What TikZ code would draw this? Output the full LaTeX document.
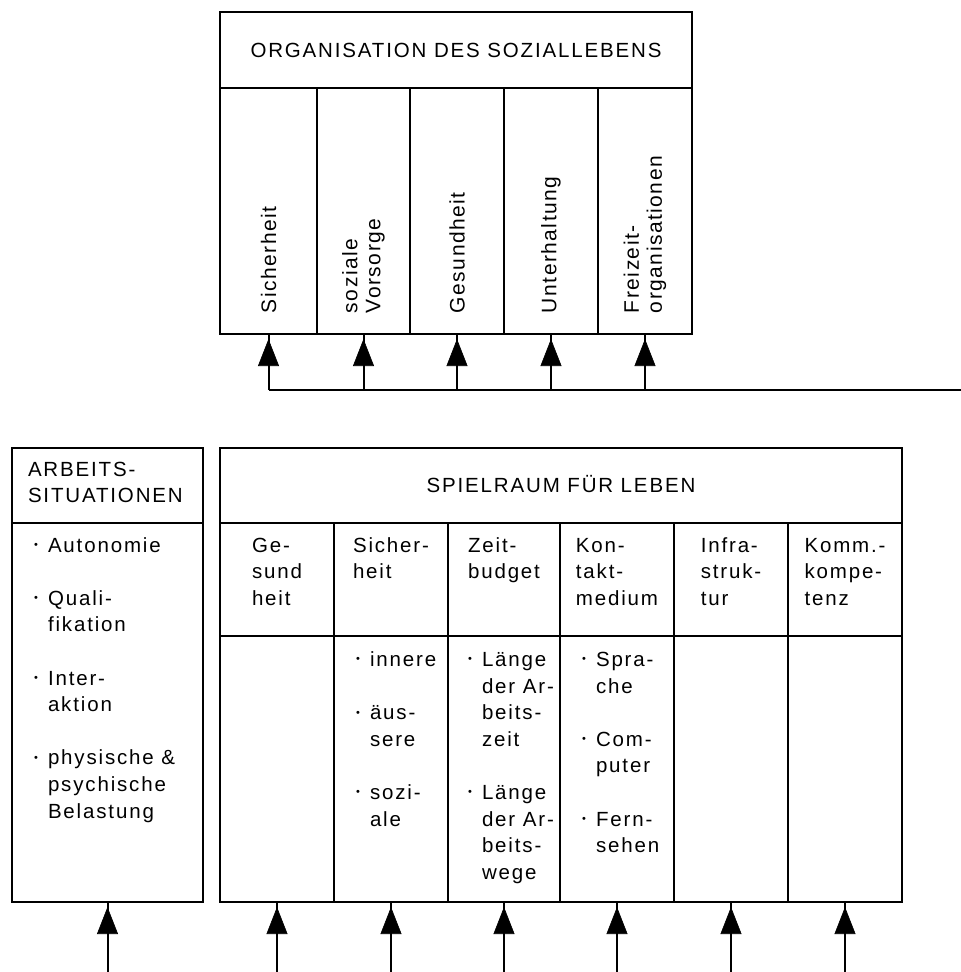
\documentclass[tikz,border=0pt]{standalone}
\usepackage{fontspec}
\setmainfont{Liberation Sans}
\newfontfamily\hfontfam{Liberation Sans}[LetterSpace=9]
\newfontfamily\vfontfam{Liberation Sans}[LetterSpace=7]
\usetikzlibrary{arrows.meta,decorations.markings}

% horizontal and vertical label fonts
\newcommand\hlbl{\hfontfam\fontsize{20.5}{26.6}\selectfont}
\newcommand\vlbl{\vfontfam\fontsize{21}{23}\selectfont}
% hanging bullet and gap between list items
\newcommand\bul{\llap{\raisebox{3.6pt}{\fontsize{11}{10}\selectfont •}\hspace{10pt}}}
\newcommand\itemgap{\\[26.6pt]}

\begin{document}
\begin{tikzpicture}[x=1pt,y=-1pt,
  cell/.style={draw, line width=2pt, inner sep=0pt, outer sep=0pt, anchor=north west},
  hl/.style={font=\hlbl, inner sep=0pt, outer sep=0pt},
  vl/.style={font=\vlbl, inner sep=0pt, outer sep=0pt, rotate=90, anchor=west, align=left},
  bus/.style={line width=2pt},
  conn/.style={line width=2pt, postaction={decorate},
    decoration={markings, mark=at position -5pt with {\arrow[line width=0.6pt]{Triangle[length=27pt,width=21pt]}}}}
]
\useasboundingbox (0,0) rectangle (961,972);

% ---------- Organisation des Soziallebens ----------
\node[cell, minimum width=472pt, minimum height=76pt] (orgHead) at (220,12) {};
\node[cell, minimum width=97pt, minimum height=246pt] (orgC1) at (220,88) {};
\node[cell, minimum width=93pt, minimum height=246pt] (orgC2) at (317,88) {};
\node[cell, minimum width=94pt, minimum height=246pt] (orgC3) at (410,88) {};
\node[cell, minimum width=94pt, minimum height=246pt] (orgC4) at (504,88) {};
\node[cell, minimum width=94pt, minimum height=246pt] (orgC5) at (598,88) {};

\node[hl, anchor=base] (orgTitle) at (456,57) {ORGANISATION DES SOZIALLEBENS};
\node[vl] (vSich) at (orgC1.center |- 0,313) {Sicherheit};
\node[vl] (vVors) at (orgC2.center |- 0,313) {soziale\\Vorsorge};
\node[vl] (vGes) at (orgC3.center |- 0,313) {Gesundheit};
\node[vl] (vUnt) at (orgC4.center |- 0,313) {Unterhaltung};
\node[vl] (vFrei) at (orgC5.center |- 0,313) {Freizeit-\\organisationen};

% ---------- Arbeitssituationen ----------
\node[cell, minimum width=191pt, minimum height=75pt] (arbHead) at (12,448) {};
\node[cell, minimum width=191pt, minimum height=379pt] (arbBody) at (12,523) {};
\node[hl, anchor=north west, align=left] (arbTitle) at (28,457.4) {\strut ARBEITS-\\SITUATIONEN};
\node[hl, anchor=north west, align=left] (arbList) at (48,533.4)
  {\strut\bul Autonomie\itemgap
   \bul Quali-\\fikation\itemgap
   \bul Inter-\\aktion\itemgap
   \bul physische \&\\psychische\\Belastung};

% ---------- Spielraum fuer Leben ----------
\node[cell, minimum width=682pt, minimum height=75pt] (spHead) at (220,448) {};
\node[hl, anchor=base] (spTitle) at (561,492) {SPIELRAUM FÜR LEBEN};

\foreach \i/\xl/\w in {1/220/114, 2/334/114, 3/448/112, 4/560/114, 5/674/114, 6/788/114}{
  \node[cell, minimum width=\w pt, minimum height=113pt] (spH\i) at (\xl,523) {};
  \node[cell, minimum width=\w pt, minimum height=266pt] (spB\i) at (\xl,636) {};
}

\node[hl, anchor=north, align=left] (hGes) at (spH1.center |- 0,533.4) {\strut Ge-\\sund\\heit};
\node[hl, anchor=north, align=left] (hSich) at (spH2.center |- 0,533.4) {\strut Sicher-\\heit};
\node[hl, anchor=north, align=left] (hZeit) at (spH3.center |- 0,533.4) {\strut Zeit-\\budget};
\node[hl, anchor=north, align=left] (hKon) at (spH4.center |- 0,533.4) {\strut Kon-\\takt-\\medium};
\node[hl, anchor=north, align=left] (hInf) at (spH5.center |- 0,533.4) {\strut Infra-\\struk-\\tur};
\node[hl, anchor=north, align=left] (hKomm) at (spH6.center |- 0,533.4) {\strut Komm.-\\kompe-\\tenz};

\node[hl, anchor=north west, align=left] (lSich) at (370,647.9)
  {\strut\bul innere\itemgap
   \bul äus-\\sere\itemgap
   \bul sozi-\\ale};
\node[hl, anchor=north west, align=left] (lZeit) at (482,647.9)
  {\strut\bul Länge\\der Ar-\\beits-\\zeit\itemgap
   \bul Länge\\der Ar-\\beits-\\wege};
\node[hl, anchor=north west, align=left] (lKon) at (596,647.9)
  {\strut\bul Spra-\\che\itemgap
   \bul Com-\\puter\itemgap
   \bul Fern-\\sehen};

% ---------- connectors ----------
\coordinate (busR) at (961,390);
\draw[bus] (orgC1.south |- busR) -- (busR);
\foreach \c in {orgC1,orgC2,orgC3,orgC4,orgC5}
  \draw[conn] (\c.south |- busR) -- (\c.south);

\coordinate (floor) at (0,972);
\foreach \c in {arbBody,spB1,spB2,spB3,spB4,spB5,spB6}
  \draw[conn] (\c.south |- floor) -- (\c.south);
\end{tikzpicture}
\end{document}
